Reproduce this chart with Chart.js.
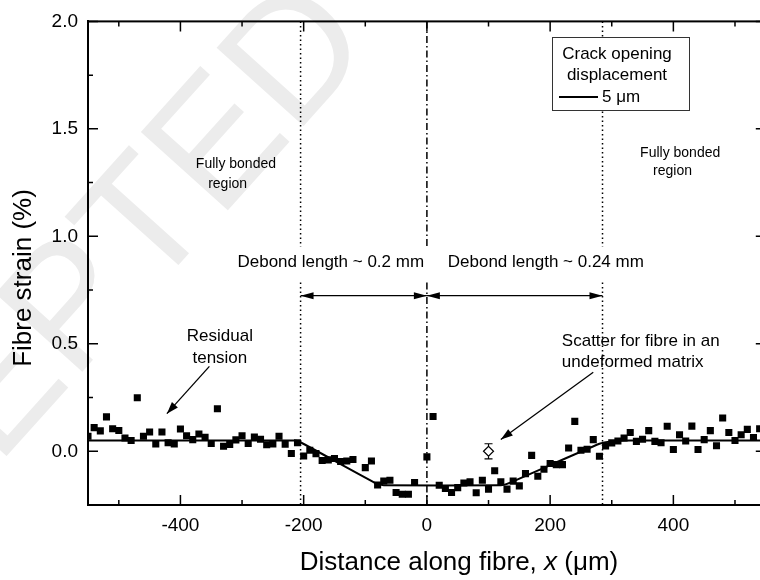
<!DOCTYPE html>
<html>
<head>
<meta charset="utf-8">
<script src="https://cdn.jsdelivr.net/npm/chart.js@4.4.0/dist/chart.umd.min.js"></script>
<style>
html, body { margin: 0; padding: 0; background: #fff; overflow: hidden; }
#wrap { width: 772px; height: 580px; }
</style>
</head>
<body>
<div id="wrap"><canvas id="c" width="772" height="580"></canvas></div>
<script>
// measured fibre strain (%) against distance along fibre (um)
var distance = [-550, -540, -530, -520, -510, -500, -490, -480, -470, -460,
  -450, -440, -430, -420, -410, -400, -390, -380, -370, -360,
  -350, -340, -330, -320, -310, -300, -290, -280, -270, -260,
  -250, -240, -230, -220, -210, -200, -190, -180, -170, -160,
  -150, -140, -130, -120, -100, -90, -80, -70, -60, -50,
  -40, -30, -20, 0, 10, 20, 30, 40, 50, 60,
  70, 80, 90, 100, 110, 120, 130, 140, 150, 160,
  170, 180, 190, 200, 210, 220, 230, 240, 250, 260,
  270, 280, 290, 300, 310, 320, 330, 340, 350, 360,
  370, 380, 390, 400, 410, 420, 430, 440, 450, 460,
  470, 480, 490, 500, 510, 520, 530, 540];
var strain = [0.07, 0.11, 0.095, 0.16, 0.105, 0.097, 0.062, 0.05, 0.249, 0.07,
  0.09, 0.034, 0.09, 0.04, 0.034, 0.104, 0.072, 0.054, 0.08, 0.065,
  0.036, 0.198, 0.023, 0.032, 0.053, 0.072, 0.036, 0.066, 0.056, 0.03,
  0.034, 0.07, 0.033, -0.01, 0.04, -0.022, 0.005, -0.011, -0.043, -0.04,
  -0.034, -0.048, -0.045, -0.038, -0.076, -0.045, -0.157, -0.138, -0.135, -0.192,
  -0.2, -0.2, -0.145, -0.026, 0.162, -0.158, -0.173, -0.192, -0.169, -0.148,
  -0.142, -0.193, -0.135, -0.176, -0.091, -0.142, -0.176, -0.139, -0.161, -0.104,
  -0.019, -0.116, -0.084, -0.057, -0.062, -0.062, 0.015, 0.139, 0.005, 0.009,
  0.054, -0.023, 0.025, 0.039, 0.048, 0.062, 0.087, 0.046, 0.056, 0.096,
  0.046, 0.04, 0.116, 0.008, 0.077, 0.048, 0.117, 0.008, 0.054, 0.096,
  0.026, 0.155, 0.087, 0.05, 0.077, 0.102, 0.064, 0.105];

// fitted profile for 5 um crack opening
var fitX = [-550, -215, -205, -82, -70, 120, 130, 280, 300, 330, 550];
var fitY = [0.05, 0.05, 0.042, -0.15, -0.158, -0.158, -0.152, 0.035, 0.046, 0.05, 0.05];

// scatter for a fibre in undeformed matrix
var refX = [100];
var refY = [0.0];
var refErr = [0.035];

var xMajor = [-400, -200, 0, 200, 400];
var xMinor = [-500, -300, -100, 100, 300, 500];
var yMajor = [0, 0.5, 1, 1.5, 2];
var yMinor = [0.25, 0.75, 1.25, 1.75];

var debondLeft = -205;
var crackAt = 0;
var debondRight = 285;

var FONT = "'Liberation Sans', Arial, Helvetica, sans-serif";

function points(xs, ys) {
  return xs.map(function (x, i) { return { x: x, y: ys[i] }; });
}

function arrowHead(ctx, x1, y1, x2, y2, len, half) {
  var a = Math.atan2(y2 - y1, x2 - x1);
  var bx = x2 - len * Math.cos(a), by = y2 - len * Math.sin(a);
  ctx.beginPath();
  ctx.moveTo(x2, y2);
  ctx.lineTo(bx + half * Math.sin(a), by - half * Math.cos(a));
  ctx.lineTo(bx - half * Math.sin(a), by + half * Math.cos(a));
  ctx.closePath();
  ctx.fill();
}

function arrow(ctx, x1, y1, x2, y2, both, len, half) {
  ctx.beginPath();
  ctx.moveTo(x1, y1);
  ctx.lineTo(x2, y2);
  ctx.stroke();
  arrowHead(ctx, x1, y1, x2, y2, len, half);
  if (both) arrowHead(ctx, x2, y2, x1, y1, len, half);
}

function vline(ctx, ca, px, dash) {
  ctx.save();
  ctx.strokeStyle = '#000';
  ctx.lineWidth = 1.5;
  ctx.setLineDash(dash);
  ctx.beginPath();
  ctx.moveTo(px, ca.top);
  ctx.lineTo(px, ca.bottom);
  ctx.stroke();
  ctx.restore();
}

var extras = {
  id: 'extras',
  beforeDraw: function (chart) {
    // faint manuscript watermark behind everything
    var ctx = chart.ctx;
    ctx.save();
    ctx.translate(-243, 733);
    ctx.rotate(-48 * Math.PI / 180);
    ctx.font = '170px ' + FONT;
    ctx.fillStyle = '#ececec';
    ctx.textAlign = 'left';
    ctx.textBaseline = 'alphabetic';
    ctx.fillText('ACCEPTED', 0, 0);
    ctx.restore();
  },
  beforeDatasetsDraw: function (chart) {
    var ctx = chart.ctx, ca = chart.chartArea;
    var xs = chart.scales.x;
    vline(ctx, ca, xs.getPixelForValue(debondLeft), [1.5, 3]);
    vline(ctx, ca, xs.getPixelForValue(debondRight), [1.5, 3]);
    vline(ctx, ca, xs.getPixelForValue(crackAt), [7, 3, 1.5, 3]);
  },
  afterDatasetsDraw: function (chart) {
    var ctx = chart.ctx, ca = chart.chartArea;
    var xs = chart.scales.x, ys = chart.scales.y;
    var X = function (v) { return xs.getPixelForValue(v); };
    var Y = function (v) { return ys.getPixelForValue(v); };

    ctx.save();
    // frame
    ctx.strokeStyle = '#000';
    ctx.lineWidth = 2;
    ctx.strokeRect(ca.left, ca.top, ca.right - ca.left, ca.bottom - ca.top);

    // inward tick marks on all sides
    ctx.lineWidth = 1.5;
    ctx.beginPath();
    xMajor.concat(xMinor).forEach(function (v) {
      var len = xMajor.indexOf(v) >= 0 ? 10 : 5;
      var p = X(v);
      ctx.moveTo(p, ca.bottom); ctx.lineTo(p, ca.bottom - len);
      ctx.moveTo(p, ca.top); ctx.lineTo(p, ca.top + len);
    });
    yMajor.concat(yMinor).forEach(function (v) {
      var len = yMajor.indexOf(v) >= 0 ? 10 : 5;
      var p = Y(v);
      ctx.moveTo(ca.left, p); ctx.lineTo(ca.left + len, p);
      ctx.moveTo(ca.right, p); ctx.lineTo(ca.right - len, p);
    });
    ctx.stroke();

    // error bar of the reference point
    ctx.lineWidth = 1.2;
    ctx.beginPath();
    refX.forEach(function (v, i) {
      var px = X(v), top = Y(refY[i] + refErr[i]), bot = Y(refY[i] - refErr[i]);
      ctx.moveTo(px, top); ctx.lineTo(px, Y(refY[i]) - 5);
      ctx.moveTo(px, Y(refY[i]) + 5); ctx.lineTo(px, bot);
      ctx.moveTo(px - 4, top); ctx.lineTo(px + 4, top);
      ctx.moveTo(px - 4, bot); ctx.lineTo(px + 4, bot);
    });
    ctx.stroke();

    ctx.fillStyle = '#000';
    ctx.textBaseline = 'middle';

    // debond length labels with white backing
    ctx.font = '17px ' + FONT;
    ctx.textAlign = 'center';
    [['Debond length ~ 0.2 mm', -156], ['Debond length ~ 0.24 mm', 193]].forEach(function (d) {
      var w = ctx.measureText(d[0]).width;
      var cx = X(d[1]), cy = Y(0.877);
      ctx.fillStyle = '#fff';
      ctx.fillRect(cx - w / 2 - 4, cy - 16, w + 8, 34);
      ctx.fillStyle = '#000';
      ctx.fillText(d[0], cx, cy);
    });

    // debond arrows
    ctx.lineWidth = 1.2;
    var ay = Y(0.724);
    arrow(ctx, X(debondLeft), ay, X(crackAt), ay, true, 13, 3.5);
    arrow(ctx, X(crackAt), ay, X(debondRight), ay, true, 13, 3.5);

    // fully bonded labels
    ctx.font = '14px ' + FONT;
    ctx.textAlign = 'left';
    ctx.fillText('Fully bonded', X(-375), Y(1.337));
    ctx.fillText('region', X(-355), Y(1.244));
    ctx.fillText('Fully bonded', X(346), Y(1.388));
    ctx.fillText('region', X(367), Y(1.304));

    // residual tension note
    ctx.font = '17px ' + FONT;
    ctx.textAlign = 'center';
    ctx.fillText('Residual', X(-336), Y(0.534));
    ctx.fillText('tension', X(-336), Y(0.432));
    ctx.lineWidth = 1.3;
    arrow(ctx, X(-353), Y(0.395), X(-422), Y(0.175), false, 12, 4);

    // scatter note
    ctx.textAlign = 'left';
    ctx.fillText('Scatter for fibre in an', X(219), Y(0.512));
    ctx.fillText('undeformed matrix', X(219), Y(0.415));
    arrow(ctx, X(270), Y(0.368), X(120), Y(0.055), false, 12, 4);

    // legend box
    var bl = 552, bt = 37, bw = 137, bh = 73;
    ctx.fillStyle = '#fff';
    ctx.fillRect(bl, bt, bw, bh);
    ctx.strokeStyle = '#333';
    ctx.lineWidth = 1;
    ctx.strokeRect(bl + 0.5, bt + 0.5, bw, bh);
    ctx.fillStyle = '#000';
    ctx.textAlign = 'center';
    ctx.fillText('Crack opening', bl + 65, bt + 17);
    ctx.fillText('displacement', bl + 65, bt + 38);
    ctx.strokeStyle = '#000';
    ctx.lineWidth = 2;
    ctx.beginPath();
    ctx.moveTo(bl + 7, bt + 60); ctx.lineTo(bl + 46, bt + 60);
    ctx.stroke();
    ctx.textAlign = 'left';
    ctx.fillText('5 \u03bcm', bl + 50, bt + 60);

    // axis titles
    ctx.font = '26px ' + FONT;
    ctx.save();
    ctx.translate(24, 278);
    ctx.rotate(-Math.PI / 2);
    ctx.textAlign = 'center';
    ctx.fillText('Fibre strain (%)', 0, 0);
    ctx.restore();

    var parts = [['Distance along fibre, ', ''], ['x', 'italic '], [' (\u03bcm)', '']];
    var total = 0;
    parts.forEach(function (p) { ctx.font = p[1] + '26px ' + FONT; total += ctx.measureText(p[0]).width; });
    var tx = 459 - total / 2;
    ctx.textAlign = 'left';
    parts.forEach(function (p) {
      ctx.font = p[1] + '26px ' + FONT;
      ctx.fillText(p[0], tx, 563);
      tx += ctx.measureText(p[0]).width;
    });
    ctx.restore();
  }
};

var chart = new Chart(document.getElementById('c'), {
  type: 'scatter',
  data: {
    datasets: [{
      label: 'Measured',
      data: points(distance, strain),
      pointStyle: 'rect',
      pointRadius: 5,
      backgroundColor: '#000',
      borderColor: '#000',
      borderWidth: 0
    }, {
      label: '5 um',
      type: 'line',
      data: points(fitX, fitY),
      borderColor: '#000',
      borderWidth: 2,
      pointRadius: 0,
      fill: false,
      tension: 0.15
    }, {
      label: 'Undeformed matrix',
      data: points(refX, refY),
      pointStyle: 'rectRot',
      pointRadius: 5,
      backgroundColor: '#fff',
      borderColor: '#000',
      borderWidth: 1.2
    }]
  },
  options: {
    responsive: false,
    animation: false,
    devicePixelRatio: 1,
    layout: { padding: { left: 0, top: 20, right: 6, bottom: 0 } },
    plugins: { legend: { display: false }, tooltip: { enabled: false } },
    scales: {
      x: {
        type: 'linear',
        min: -550,
        max: 550,
        afterBuildTicks: function (s) { s.ticks = xMajor.map(function (v) { return { value: v }; }); },
        afterFit: function (s) { s.height = 75; },
        grid: { display: false, drawTicks: false },
        border: { display: true, color: '#000', width: 2 },
        ticks: {
          padding: 9,
          color: '#000',
          maxRotation: 0,
          font: { family: FONT, size: 19 },
          callback: function (v) { return String(v); }
        }
      },
      y: {
        type: 'linear',
        min: -0.25,
        max: 2.0,
        afterBuildTicks: function (s) { s.ticks = yMajor.map(function (v) { return { value: v }; }); },
        afterFit: function (s) { s.width = 88; },
        grid: { display: false, drawTicks: false },
        border: { display: true, color: '#000', width: 2 },
        ticks: {
          padding: 10,
          color: '#000',
          font: { family: FONT, size: 19 },
          callback: function (v) { return Number(v).toFixed(1); }
        }
      }
    }
  },
  plugins: [extras]
});
</script>
</body>
</html>
